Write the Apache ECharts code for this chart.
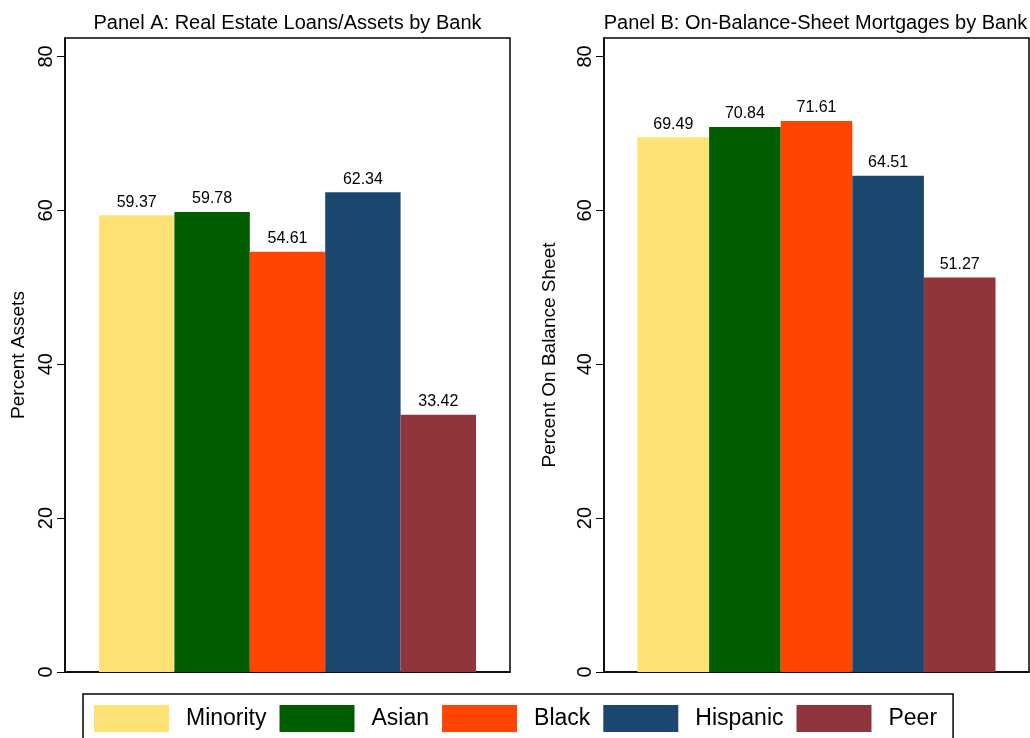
<!DOCTYPE html>
<html>
<head>
<meta charset="utf-8">
<script src="https://cdn.jsdelivr.net/npm/echarts@6/dist/echarts.min.js"></script>
<style>
html,body{margin:0;padding:0;background:#fff;}
#chart{width:1030px;height:738px;}
</style>
</head>
<body>
<div id="chart"></div>
<script>
const groups = ['Minority', 'Asian', 'Black', 'Hispanic', 'Peer'];
const colors = ['#FEE276', '#005E00', '#FF4500', '#1B476F', '#90353B'];
const panelAValues = [59.37, 59.78, 54.61, 62.34, 33.42];
const panelBValues = [69.49, 70.84, 71.61, 64.51, 51.27];
const yTicks = [0, 20, 40, 60, 80];
const panelTitles = ['Panel A: Real Estate Loans/Assets by Bank', 'Panel B: On-Balance-Sheet Mortgages by Bank'];
const yNames = ['Percent Assets', 'Percent On Balance Sheet'];

const FONT = '"Liberation Sans", Arial, Helvetica, sans-serif';
const chart = echarts.init(document.getElementById('chart'), null, {renderer: 'canvas'});

const grids = [
  {left: 65, right: 520, top: 38, bottom: 66},
  {left: 604, right: 1, top: 38, bottom: 66}
];
const barWidths = [75.4, 71.6];
const nameGaps = [37, 45];

function yAxis(i) {
  return {
    type: 'value', gridIndex: i, min: 0, max: 82.4, interval: 20,
    name: yNames[i], nameLocation: 'middle', nameGap: nameGaps[i],
    nameTextStyle: {fontFamily: FONT, fontSize: 19, color: '#000'},
    axisLine: {show: true, lineStyle: {color: '#000', width: 1.5}},
    axisTick: {show: true, length: 8, lineStyle: {color: '#000', width: 1}, customValues: yTicks},
    axisLabel: {rotate: 90, margin: 9, fontFamily: FONT, fontSize: 20, color: '#000', customValues: yTicks,
      formatter: v => (yTicks.indexOf(v) >= 0 ? String(v) : '')},
    splitLine: {show: false}
  };
}
function xAxis(i) {
  return {
    type: 'category', gridIndex: i, data: [''],
    axisLine: {show: true, lineStyle: {color: '#000', width: 1.5}},
    axisTick: {show: false}, axisLabel: {show: false}, splitLine: {show: false}
  };
}

const series = [];
[panelAValues, panelBValues].forEach((vals, p) => {
  groups.forEach((g, k) => {
    series.push({
      type: 'bar', name: g, xAxisIndex: p, yAxisIndex: p,
      data: [vals[k]], barWidth: barWidths[p], barGap: '0%',
      itemStyle: {color: colors[k]},
      label: {show: true, position: 'top', distance: 5, fontFamily: FONT, fontSize: 16, color: '#000',
        formatter: d => d.value.toFixed(2)},
      emphasis: {disabled: true}, animation: false
    });
  });
});

chart.setOption({
  animation: false,
  grid: grids.map(g => Object.assign({show: true, borderColor: '#000', borderWidth: 1.5, backgroundColor: 'transparent'}, g)),
  xAxis: [xAxis(0), xAxis(1)],
  yAxis: [yAxis(0), yAxis(1)],
  legend: {
    data: groups, left: 83, top: 694, orient: 'horizontal',
    itemWidth: 75, itemHeight: 27, itemGap: 13, icon: 'rect',
    padding: [11, 16, 11, 11], borderColor: '#000', borderWidth: 1.5,
    textStyle: {fontFamily: FONT, fontSize: 23, color: '#000', padding: [0, 0, 0, 12]},
    selectedMode: false
  },
  graphic: [
    {type: 'text', x: 287.5, y: 23, style: {text: panelTitles[0], fontFamily: FONT, fontSize: 20, fill: '#000', align: 'center', verticalAlign: 'middle'}},
    {type: 'text', x: 815.5, y: 23, style: {text: panelTitles[1], fontFamily: FONT, fontSize: 20, fill: '#000', align: 'center', verticalAlign: 'middle'}}
  ],
  series: series
});
</script>
</body>
</html>
